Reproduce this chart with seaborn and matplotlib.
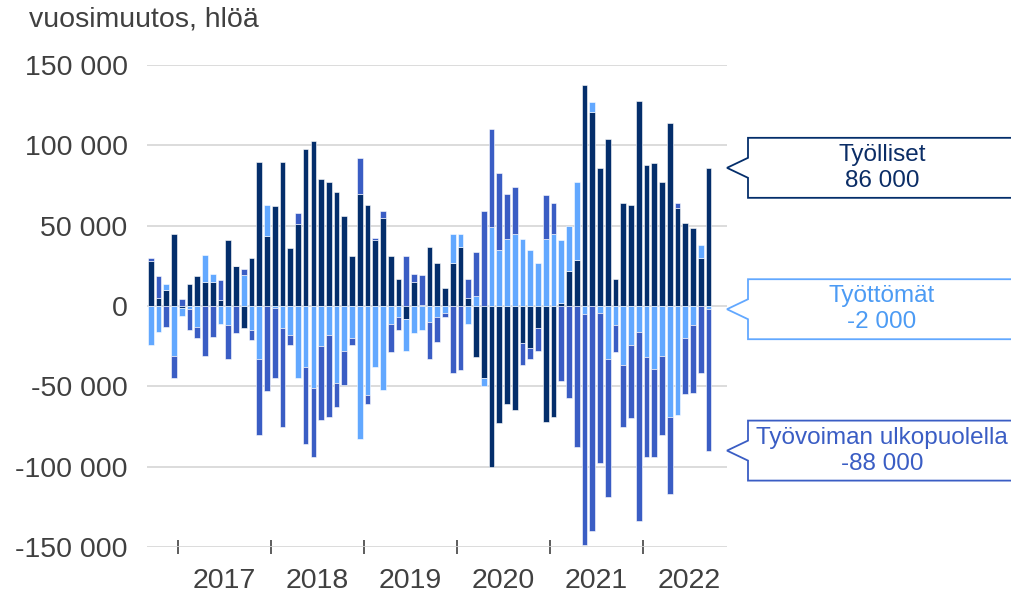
import numpy as np
import pandas as pd
import matplotlib
matplotlib.use("Agg")
import matplotlib.pyplot as plt
from matplotlib.patches import Polygon
import seaborn as sns

# ---------------- data ----------------
months = pd.date_range("2016-09-01", "2022-09-01", freq="MS")
tyolliset = [27900, 5000, 9900, 44800,
             -1000, 13800, 18800, 14900, 14900, 3700, 40900, 24800, -14000, 30000, 89900, 43800,
             62000, 89900, 35900, 50800, 97900, 102900, 78900, 76900, 70900, 56000, 31000, 70000,
             63000, 40900, 54700, 31000, 16900, -8100, 14900, 500, 37000, 26900, 10900, 26900,
             37000, 5000, -32000, -45000, -100000, -72900, -60900, -64900, -22900, -26000, -14000, -71900,
             -69000, 1700, 21900, 28900, 137800, 120900, 85900, 103900, 16900, 63800, 62800, 127900,
             87800, 88800, 76900, 113800, 60700, 51900, 48800, 30000, 86000]
tyottomat = [-24000, -16100, 3900, -31000,
             -5200, -2000, -13000, 17100, 4900, -11000, -12000, 0, 19000, -15100, -33000, 19200,
             -1000, -14000, -18000, -45000, -38000, -51000, -25000, -18000, -48100, -28100, -20000, -83000,
             -55200, -38000, -52100, -11000, -7000, -20000, -16900, -15100, -10100, -7000, -4100, 17900,
             7800, -11000, 6000, -4800, 49200, 34900, 41900, 44800, 41900, 34900, 26900, 41900,
             44800, 39200, 28100, 48000, -5200, 6000, -4100, -33100, -12000, -37000, -24000, -16100,
             -32000, -39000, -31000, -69000, -68000, -20000, -12000, 8000, -2000]
ulkopuolella = [2100, 13800, -13000, -14000,
                4100, -13100, -7000, -31000, -19000, 12200, -21000, -16900, 3900, -6000, -47000, -52900,
                -44000, -61000, -6000, 7000, -47900, -43000, -45900, -51000, -14700, -20900, -4000, 21900,
                -5700, 1500, 4200, -17900, -8100, 31000, 4900, 18800, -23000, -15100, -2900, -41900,
                -40100, 11900, 27900, 58900, 60700, 47900, 27900, 29200, -13900, -7100, -14100, 26900,
                19000, -46900, -57000, -88000, -143800, -140100, -93800, -85900, -16900, -38000, -46000, -117800,
                -62000, -55000, -49000, -47900, 3100, -35000, -41900, -41900, -88000]
series_names = ["Työlliset", "Työttömät", "Työvoiman ulkopuolella"]
years = ["2017", "2018", "2019", "2020", "2021", "2022"]
yticks = [150000, 100000, 50000, 0, -50000, -100000, -150000]
ytick_labels = ["150 000", "100 000", "50 000", "0", "-50 000", "-100 000", "-150 000"]
callout_values = ["86 000", "-2 000", "-88 000"]

# ---------------- style ----------------
sns.set_theme(style="white")
plt.rcParams["font.family"] = ["Liberation Sans", "DejaVu Sans"]

colors = ["#042E6B", "#62A8FF", "#3A5DC4"]
text_colors = ["#0B2D66", "#4C9BF4", "#3A5DC4"]
grey = "#404040"

df = pd.DataFrame({"month": months,
                   series_names[0]: tyolliset,
                   series_names[1]: tyottomat,
                   series_names[2]: ulkopuolella})
long = df.melt(id_vars="month", var_name="series", value_name="value")

W, H = 1011, 593
fig = plt.figure(figsize=(W / 100, H / 100), dpi=100)
ax = fig.add_axes([147 / W, 1 - 547 / H, (727 - 147) / W, (547 - 65) / H])

x = np.arange(len(months))
pos = np.zeros(len(months))
neg = np.zeros(len(months))
for name, col in zip(series_names, colors):
    v = long.loc[long["series"] == name, "value"].to_numpy(dtype=float)
    bottom = np.where(v >= 0, pos, neg)
    ax.bar(x, v, bottom=bottom, width=0.74, color=col, edgecolor="white",
           linewidth=0.4, zorder=3)
    pos = pos + np.where(v >= 0, v, 0)
    neg = neg + np.where(v < 0, v, 0)

ax.set_xlim(-0.48, 74.4)
ax.set_ylim(-150000, 150000)
ax.set_yticks(yticks)
ax.set_yticklabels(ytick_labels)
for yv in yticks:
    ax.axhline(yv, color="#d6d6d6", linewidth=1.2, zorder=1)
for s in ax.spines.values():
    s.set_visible(False)

# year boundary ticks and centred year labels
year_starts = [i for i, m in enumerate(months) if m.month == 1]
ax.set_xticks([i - 0.5 for i in year_starts])
ax.set_xticklabels([])
ax.set_xticks([i + 5.5 for i in year_starts], minor=True)
ax.set_xticklabels(years, minor=True)
ax.tick_params(axis="x", which="major", direction="inout", length=10, width=1.3,
               color="#505050", bottom=True)
ax.tick_params(axis="x", which="minor", length=0, pad=15, labelsize=20.5, labelcolor=grey)
ax.tick_params(axis="y", length=0, pad=14, labelsize=20.5, labelcolor=grey)
ax.grid(False)

fig.text(29 / W, 1 - 20 / H, "vuosimuutos, hlöä", fontsize=20.5, color=grey,
         ha="left", va="center")

# callouts pointing at latest values
last = len(months) - 1
tip_vals = [tyolliset[last], tyottomat[last], ulkopuolella[last] + tyottomat[last]]
for name, val_txt, tv, ec, tc in zip(series_names, callout_values, tip_vals, colors, text_colors):
    _, ty = ax.transData.transform((0, tv))
    ty = H - ty  # pixel from top
    left, right = 748, 1020
    top, bot = ty - 30, ty + 30
    pts = [(727, ty), (left, ty - 10), (left, top), (right, top), (right, bot),
           (left, bot), (left, ty + 10)]
    pts = [(px / W, 1 - py / H) for px, py in pts]
    fig.patches.append(Polygon(pts, closed=True, transform=fig.transFigure,
                               facecolor="white", edgecolor=ec, linewidth=1.3))
    fig.text(882 / W, 1 - (ty - 13) / H, name, color=tc, fontsize=17.5,
             ha="center", va="center")
    fig.text(882 / W, 1 - (ty + 13) / H, val_txt, color=tc, fontsize=17.5,
             ha="center", va="center")

fig.savefig("out.png", dpi=100)
